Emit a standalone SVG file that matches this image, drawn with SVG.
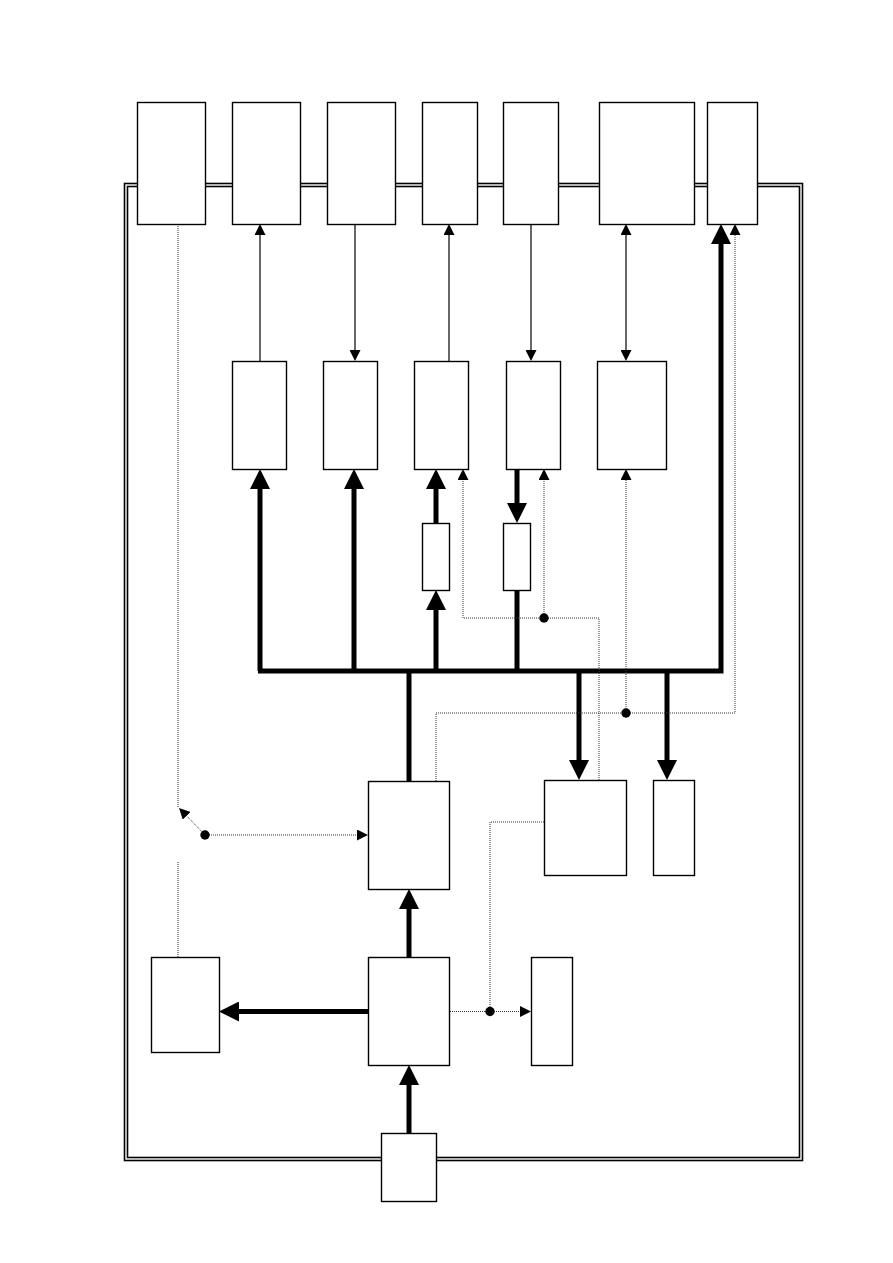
<svg xmlns="http://www.w3.org/2000/svg" width="893" height="1263" viewBox="0 0 893 1263">
<style>
.frame{fill:none;stroke:#000;stroke-width:1.6}
.box{fill:#fff;stroke:#000;stroke-width:1.4}
.thick{fill:none;stroke:#000;stroke-width:5;stroke-linejoin:miter;stroke-linecap:butt}
.thin{fill:none;stroke:#000;stroke-width:1.2}
.dot{fill:none;stroke:#333;stroke-width:1;stroke-dasharray:1 1}
.jn{fill:#000}
</style>
<defs>
<marker id="ah" markerUnits="userSpaceOnUse" markerWidth="20" markerHeight="20" refX="10" refY="10" orient="auto" viewBox="0 0 20 20">
<path d="M0,0 L20,10 L0,20 z" fill="#000"/>
</marker>
<marker id="at" markerUnits="userSpaceOnUse" markerWidth="11" markerHeight="11" refX="6" refY="5.5" orient="auto-start-reverse" viewBox="0 0 11 11">
<path d="M0,0 L11,5.5 L0,11 z" fill="#000"/>
</marker>
</defs>
<g id="frame">
<rect class="frame" x="124.5" y="183.5" width="678" height="977"/>
<rect class="frame" x="127.5" y="186.5" width="672" height="971"/>
</g>
<g id="connectors">
<path class="thick" d="M258,671 H721 V234" marker-end="url(#ah)"/>
<path class="thick" d="M260,671 V479" marker-end="url(#ah)"/>
<path class="thick" d="M354,671 V479" marker-end="url(#ah)"/>
<path class="thick" d="M436,671 V600" marker-end="url(#ah)"/>
<path class="thick" d="M436,523 V479" marker-end="url(#ah)"/>
<path class="thick" d="M517,469 V513" marker-end="url(#ah)"/>
<path class="thick" d="M517,590 V671"/>
<path class="thick" d="M409,671 V781"/>
<path class="thick" d="M579,671 V770" marker-end="url(#ah)"/>
<path class="thick" d="M667,671 V770" marker-end="url(#ah)"/>
<path class="thick" d="M409,957 V899" marker-end="url(#ah)"/>
<path class="thick" d="M368,1011.5 H229" marker-end="url(#ah)"/>
<path class="thick" d="M409,1133 V1075" marker-end="url(#ah)"/>
<path class="thin" d="M260,361 V229" marker-end="url(#at)"/>
<path class="thin" d="M355,224 V356" marker-end="url(#at)"/>
<path class="thin" d="M449,361 V229" marker-end="url(#at)"/>
<path class="thin" d="M531,224 V356" marker-end="url(#at)"/>
<path class="thin" d="M626,229 V356" marker-start="url(#at)" marker-end="url(#at)"/>
<path class="dot" d="M178,224 V807"/>
<path class="dot" d="M205,835 L182.5,811.5" marker-end="url(#at)"/>
<path class="dot" d="M205,835 H363" marker-end="url(#at)"/>
<path class="dot" d="M178,862 V957"/>
<path class="dot" d="M436,781 V713 H735 V229" marker-end="url(#at)"/>
<path class="dot" d="M626,713 V474" marker-end="url(#at)"/>
<path class="dot" d="M599,780 V618 H463 V474" marker-end="url(#at)"/>
<path class="dot" d="M544,618 V474" marker-end="url(#at)"/>
<path class="dot" d="M544,822 H490 V1011.5"/>
<path class="dot" d="M450,1011.5 H526" marker-end="url(#at)"/>
<circle class="jn" cx="205" cy="835" r="4.7"/>
<circle class="jn" cx="626" cy="713" r="4.7"/>
<circle class="jn" cx="544" cy="618" r="4.7"/>
<circle class="jn" cx="490" cy="1011.5" r="4.7"/>
</g>
<g id="t1"><rect class="box" x="137.5" y="102.5" width="68" height="122"/></g>
<g id="t2"><rect class="box" x="232.5" y="102.5" width="68" height="122"/></g>
<g id="t3"><rect class="box" x="327.5" y="102.5" width="68" height="122"/></g>
<g id="t4"><rect class="box" x="422.5" y="102.5" width="55" height="122"/></g>
<g id="t5"><rect class="box" x="503.5" y="102.5" width="55" height="122"/></g>
<g id="t6"><rect class="box" x="599.5" y="102.5" width="95" height="122"/></g>
<g id="t7"><rect class="box" x="707.5" y="102.5" width="50" height="122"/></g>
<g id="m1"><rect class="box" x="232.5" y="361.5" width="54" height="108"/></g>
<g id="m2"><rect class="box" x="323.5" y="361.5" width="54" height="108"/></g>
<g id="m3"><rect class="box" x="414.5" y="361.5" width="54" height="108"/></g>
<g id="m4"><rect class="box" x="506.5" y="361.5" width="54" height="108"/></g>
<g id="m5"><rect class="box" x="597.5" y="361.5" width="69" height="108"/></g>
<g id="s1"><rect class="box" x="422.5" y="523.5" width="27" height="67"/></g>
<g id="s2"><rect class="box" x="503.5" y="523.5" width="27" height="67"/></g>
<g id="c1"><rect class="box" x="368.5" y="781.5" width="81" height="108"/></g>
<g id="r1"><rect class="box" x="544.5" y="780.5" width="82" height="95"/></g>
<g id="r2"><rect class="box" x="653.5" y="780.5" width="41" height="95"/></g>
<g id="l1"><rect class="box" x="151.5" y="957.5" width="68" height="95"/></g>
<g id="c2"><rect class="box" x="368.5" y="957.5" width="81" height="108"/></g>
<g id="r3"><rect class="box" x="531.5" y="957.5" width="41" height="108"/></g>
<g id="b1"><rect class="box" x="381.5" y="1133.5" width="55" height="68"/></g>
</svg>
